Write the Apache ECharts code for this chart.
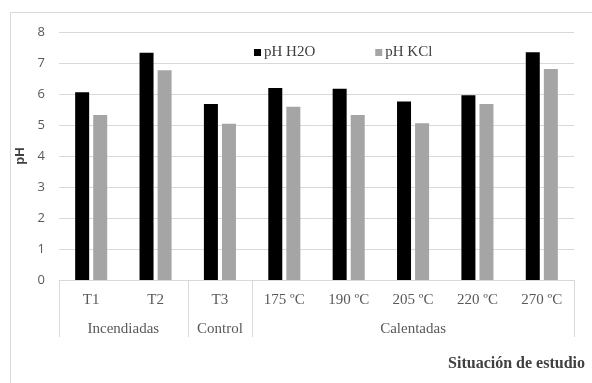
<!DOCTYPE html>
<html>
<head>
<meta charset="utf-8">
<script src="https://cdn.jsdelivr.net/npm/echarts@6/dist/echarts.min.js"></script>
<style>
html,body{margin:0;padding:0;background:#fff;}
#c{width:592px;height:383px;}
</style>
</head>
<body>
<div id="c"></div>
<script>
const categories = ['T1','T2','T3','175 ºC','190 ºC','205 ºC','220 ºC','270 ºC'];
const groupNames = ['Incendiadas','Control','Calentadas'];
const groupSizes = [2,1,5];
const seriesNames = ['pH H2O','pH KCl'];
const phH2O = [6.06, 7.33, 5.68, 6.19, 6.17, 5.76, 5.96, 7.35];
const phKCl = [5.32, 6.77, 5.04, 5.59, 5.32, 5.06, 5.68, 6.81];
const yTicks = [0,1,2,3,4,5,6,7,8];

// group boundaries and centers (in category units)
const bounds = [0];
groupSizes.forEach(s => bounds.push(bounds[bounds.length-1] + s));
const centers = groupSizes.map((s,i) => bounds[i] + s/2);

const chart = echarts.init(document.getElementById('c'));
const grey = '#d9d9d9';
const txt = '#595959';
chart.setOption({
  animation: false,
  backgroundColor: '#fff',
  title: {
    text: 'Situación de estudio',
    right: 2, top: 351,
    textStyle: {fontFamily: 'Liberation Serif', fontWeight: 'bold', fontSize: 16, color: '#404040'}
  },
  legend: {
    data: seriesNames,
    left: 249, top: 40,
    itemWidth: 7, itemHeight: 7, itemGap: 60,
    icon: 'rect',
    textStyle: {fontFamily: 'Liberation Serif', fontSize: 15, color: '#404040', padding: [0,0,0,-2]}
  },
  graphic: [{
    type: 'rect', silent: true, z: -10,
    shape: {x: 10.5, y: 12.5, width: 600, height: 400},
    style: {fill: 'none', stroke: grey, lineWidth: 1}
  }],
  grid: {left: 59, right: 18, top: 32, bottom: 103, outerBoundsMode: 'none', containLabel: false},
  xAxis: [{
    type: 'category',
    data: categories,
    position: 'bottom',
    axisLine: {show: true, lineStyle: {color: grey, width: 1}},
    axisTick: {show: false},
    axisLabel: {fontFamily: 'Liberation Serif', fontSize: 15, color: txt, margin: 13, interval: 0}
  },{
    type: 'value',
    min: bounds[0], max: bounds[bounds.length-1],
    position: 'bottom',
    axisLine: {show: false},
    splitLine: {show: false},
    axisTick: {show: true, customValues: bounds, length: 57, inside: false, lineStyle: {color: grey, width: 1}},
    axisLabel: {
      show: true,
      customValues: centers,
      margin: 42,
      fontFamily: 'Liberation Serif', fontSize: 15, color: txt,
      formatter: function (v) {
        const i = centers.findIndex(c => Math.abs(c - v) < 1e-6);
        return i >= 0 ? groupNames[i] : '';
      }
    }
  }],
  yAxis: {
    type: 'value',
    min: yTicks[0], max: yTicks[yTicks.length-1], interval: 1,
    name: 'pH',
    nameLocation: 'middle',
    nameRotate: 90,
    nameGap: 30,
    nameTextStyle: {fontFamily: 'Liberation Sans', fontWeight: 'bold', fontSize: 13, color: '#404040'},
    axisLine: {show: false},
    axisTick: {show: false},
    axisLabel: {fontFamily: 'Open Sans', fontSize: 13, color: txt, margin: 14},
    splitLine: {lineStyle: {color: grey, width: 1}}
  },
  series: [{
    name: seriesNames[0], type: 'bar', data: phH2O,
    barWidth: 14, barGap: '29%',
    itemStyle: {color: '#000000'}
  },{
    name: seriesNames[1], type: 'bar', data: phKCl,
    barWidth: 14, barGap: '29%',
    itemStyle: {color: '#a5a5a5'}
  }]
});
</script>
</body>
</html>
